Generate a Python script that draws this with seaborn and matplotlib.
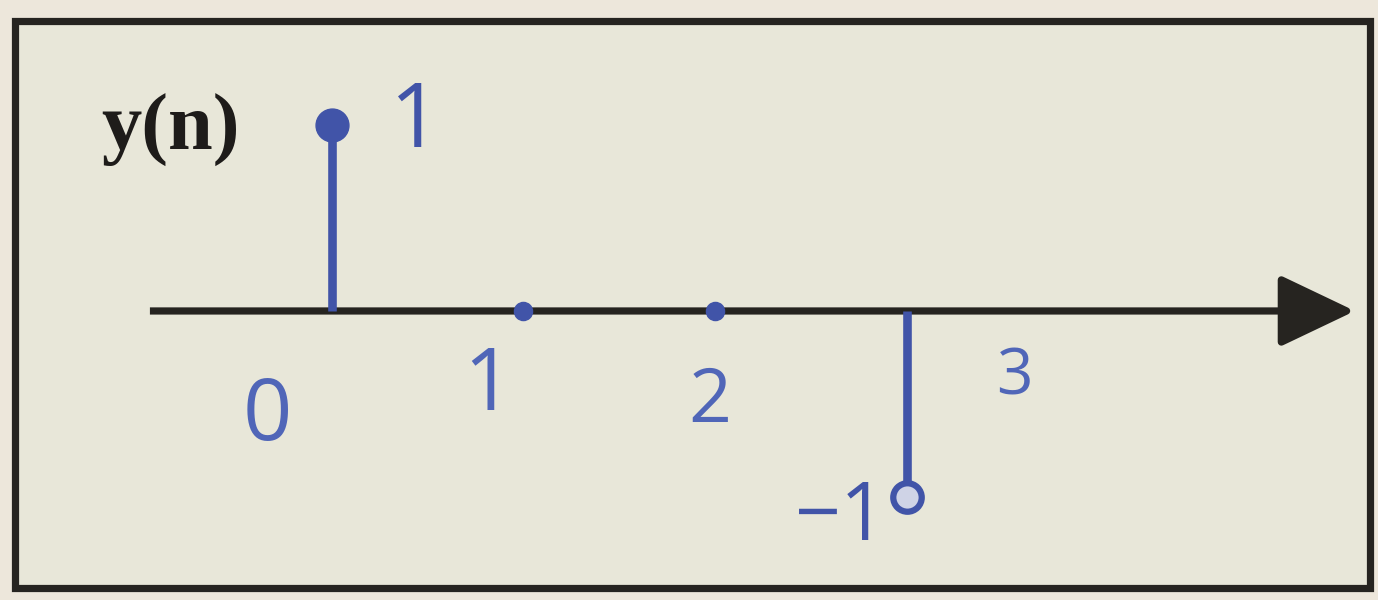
import matplotlib
matplotlib.use("Agg")
import matplotlib.pyplot as plt
from matplotlib.patches import Rectangle
import numpy as np
import pandas as pd
import seaborn as sns

# Discrete-time sequence y(n)
n_values = [0, 1, 2, 3]
y_values = [1, 0, 0, -1]
index_labels = ["0", "1", "2", "3"]
value_labels = {0: "1", 3: "\u22121"}
title_text = "y(n)"

df = pd.DataFrame({"n": n_values, "y": y_values})

sns.set_theme(style="white")
plt.rcParams["font.family"] = ["Open Sans", "DejaVu Sans"]

paper = "#ede7db"
panel = "#e8e7d9"
ink = "#262420"
pen = "#4154a8"
pen_light = "#5066b8"

fig = plt.figure(figsize=(13.78, 6.0), dpi=100, facecolor=paper)
ax = fig.add_axes([0, 0, 1, 1])
ax.set_facecolor(paper)
ax.set_xlim(-1.730, 5.458)
ax.set_ylim(-1.554, 1.672)
ax.set_axis_off()

# framed panel
ax.add_patch(Rectangle((15 / 1378, 12 / 600), 1355 / 1378, 567 / 600,
                       transform=ax.transAxes, facecolor=panel,
                       edgecolor=ink, linewidth=5.2, zorder=0))

# horizontal n axis with arrow head
ax.annotate("", xy=(5.338, 0), xytext=(-0.948, 0),
            arrowprops=dict(arrowstyle="-|>,head_length=2.35,head_width=1.12",
                            mutation_scale=20, lw=5.2, color=ink,
                            capstyle="butt", shrinkA=0, shrinkB=0), zorder=2)

# stems
ax.vlines(df["n"], 0, df["y"], color=pen, linewidth=6.2, zorder=3)

# sample markers: filled for non-negative samples, ring for negative one
pos = df[df["y"] > 0]
zero = df[df["y"] == 0]
neg = df[df["y"] < 0]
sns.scatterplot(data=pos, x="n", y="y", s=560, color=pen, edgecolor=pen,
                linewidth=1, marker="o", ax=ax, zorder=4, legend=False)
sns.scatterplot(data=zero, x="n", y="y", s=170, color=pen, edgecolor=pen,
                linewidth=1, marker="o", ax=ax, zorder=4, legend=False)
sns.scatterplot(data=neg, x="n", y="y", s=420, color="#cfd3e6", edgecolor=pen,
                linewidth=4.5, marker="o", ax=ax, zorder=4, legend=False)

# index labels under the axis
index_offsets = [(-64, -107), (-36, -77), (-5, -92), (108, -67)]
index_sizes = [62, 62, 54, 46]
for n, lab, off, fs in zip(n_values, index_labels, index_offsets, index_sizes):
    ax.annotate(lab, xy=(n, 0), xytext=off, textcoords="offset pixels",
                ha="center", va="center", fontsize=fs, color=pen_light,
                fontweight="normal", zorder=5)

# value labels next to the nonzero samples
value_offsets = {0: (84, 1), 3: (-66, -22)}
value_sizes = {0: 64, 3: 58}
for n, y in zip(n_values, y_values):
    if n in value_labels:
        ax.annotate(value_labels[n], xy=(n, y), xytext=value_offsets[n],
                    textcoords="offset pixels", ha="center", va="center",
                    fontsize=value_sizes[n], color=pen, fontweight="normal",
                    zorder=5)

ax.text(171 / 1378, 1 - 130 / 600, title_text, transform=ax.transAxes,
        ha="center", va="center", fontsize=58, fontweight="bold",
        family=["Liberation Serif", "DejaVu Serif"], color="#1e1c1a")

fig.savefig("out.png", dpi=100, facecolor=paper)
